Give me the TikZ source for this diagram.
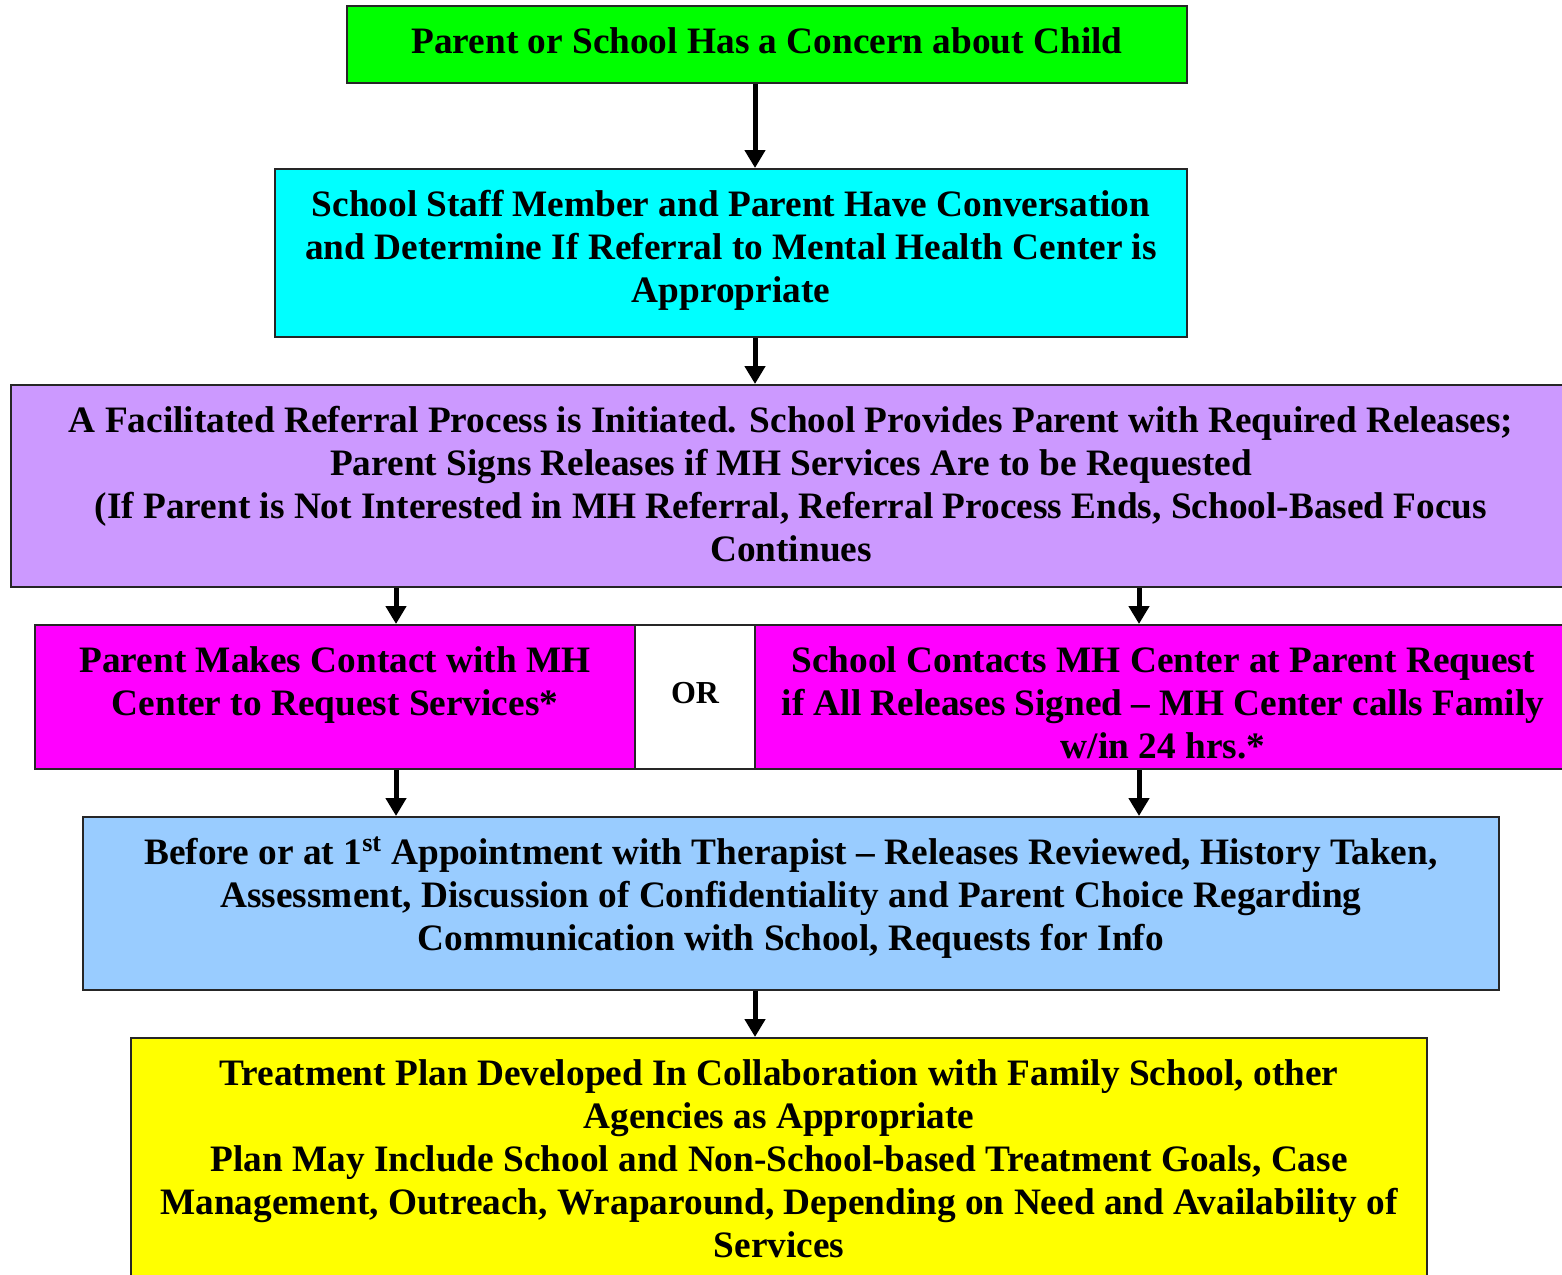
\documentclass[tikz,border=0pt]{standalone}
\usepackage{fontspec}
\setmainfont{Liberation Serif}
\usetikzlibrary{calc,arrows.meta}

\definecolor{lime}{HTML}{00FF00}
\definecolor{aqua}{HTML}{00FFFF}
\definecolor{lilac}{HTML}{CC99FF}
\definecolor{fuchsia}{HTML}{FF00FF}
\definecolor{sky}{HTML}{99CCFF}
\definecolor{lemon}{HTML}{FFFF00}
\newcommand{\lead}{\rule{0pt}{16pt}}

\begin{document}
\begin{tikzpicture}[x=0.5pt,y=-0.5pt]
\tikzstyle{box}=[draw=black!85,line width=1pt,inner sep=0pt]
\tikzstyle{txt}=[anchor=north,align=center,inner sep=0pt,
  font=\fontsize{18.65}{21.5}\selectfont\bfseries]
\tikzstyle{arr}=[line width=2.5pt,-{Triangle[length=9pt,width=10pt]}]
\clip (0,0) rectangle (1562,1274);
\coordinate (mid) at (755,0);
\coordinate (lft) at (396,0);
\coordinate (rgt) at (1139,0);
\node [box,fill=lime,minimum width=420pt,minimum height=38.5pt] (concern) at (767,44.5) {};
\node [box,fill=aqua,minimum width=456pt,minimum height=84pt] (talk) at (731,253) {};
\node [box,fill=lilac,minimum width=780pt,minimum height=101pt] (referral) at (791,486) {};
\node [box,fill=fuchsia,minimum width=300pt,minimum height=72pt] (parentcall) at (335,697) {};
\node [box,fill=white,minimum width=60pt,minimum height=72pt] (or) at (695,697) {};
\node [box,fill=fuchsia,minimum width=408pt,minimum height=72pt] (schoolcall) at (1163,697) {};
\node [box,fill=sky,minimum width=708pt,minimum height=86.5pt] (intake) at (791,903.5) {};
\node [box,fill=lemon,minimum width=648pt,minimum height=126pt] (plan) at (779,1164) {};
\node [txt] (concerntxt) at ($(concern.north)+(0,15.8)$) {\lead Parent or School Has a Concern about Child};
\node [txt] (talktxt) at ($(talk.north)+(0,15.8)$) {\lead School Staff Member and Parent Have Conversation\\
  and Determine If Referral to Mental Health Center is\\ Appropriate};
\node [txt] (referraltxt) at ($(referral.north)+(0,15.8)$) {\lead A Facilitated Referral Process is Initiated. School Provides Parent with Required Releases;\\
  Parent Signs Releases if MH Services Are to be Requested\\
  (If Parent is Not Interested in MH Referral, Referral Process Ends, School-Based Focus\\ Continues};
\node [txt] (parentcalltxt) at ($(parentcall.north)+(0,15.8)$) {\lead Parent Makes Contact with MH\\ Center to Request Services*};
\node [txt,anchor=center,font=\fontsize{16}{18}\selectfont\bfseries] (ortxt) at ($(or.center)+(0,-4)$) {OR};
\node [txt] (schoolcalltxt) at ($(schoolcall.north)+(0,15.8)$) {\lead School Contacts MH Center at Parent Request\\
  if All Releases Signed – MH Center calls Family\\ w/in 24 hrs.*};
\node [txt] (intaketxt) at ($(intake.north)+(0,15.8)$) {\lead Before or at 1\textsuperscript{st} Appointment with Therapist – Releases Reviewed, History Taken,\\
  Assessment, Discussion of Confidentiality and Parent Choice Regarding\\
  Communication with School, Requests for Info};
\node [txt] (plantxt) at ($(plan.north)+(0,15.8)$) {\lead Treatment Plan Developed In Collaboration with Family School, other\\
  Agencies as Appropriate\\
  Plan May Include School and Non-School-based Treatment Goals, Case\\
  Management, Outreach, Wraparound, Depending on Need and Availability of\\ Services};
\draw [arr] (concern.south -| mid) -- (talk.north -| mid);
\draw [arr] (talk.south -| mid) -- (referral.north -| mid);
\draw [arr] (referral.south -| lft) -- (parentcall.north -| lft);
\draw [arr] (referral.south -| rgt) -- (schoolcall.north -| rgt);
\draw [arr] (parentcall.south -| lft) -- (intake.north -| lft);
\draw [arr] (schoolcall.south -| rgt) -- (intake.north -| rgt);
\draw [arr] (intake.south -| mid) -- (plan.north -| mid);
\end{tikzpicture}
\end{document}
